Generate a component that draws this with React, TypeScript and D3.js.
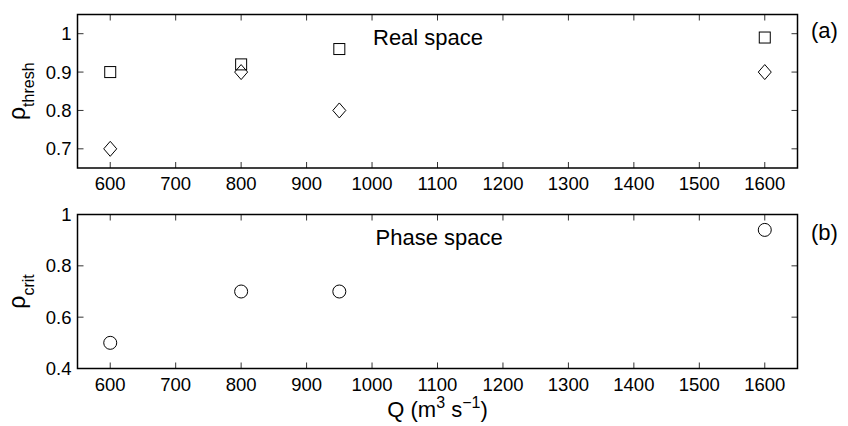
import React, { useEffect, useRef } from 'react';
import * as d3 from 'd3';

// discharge values shared by both panels
const discharge = [600, 800, 950, 1600];
// panel (a) - real space
const threshSquares = [0.9, 0.92, 0.96, 0.99];
const threshDiamonds = [0.7, 0.9, 0.8, 0.9];
// panel (b) - phase space
const critCircles = [0.5, 0.7, 0.7, 0.94];

const xTicks = [600, 700, 800, 900, 1000, 1100, 1200, 1300, 1400, 1500, 1600];
const yTicksA = [0.7, 0.8, 0.9, 1];
const yTicksB = [0.4, 0.6, 0.8, 1];

const FONT = '"Liberation Sans", Arial, Helvetica, sans-serif';

const App = () => {
  const ref = useRef<SVGSVGElement>(null);

  useEffect(() => {
    const svg = d3.select(ref.current);
    svg.selectAll('*').remove();

    const left = 77.5;
    const right = 797.5;

    const x = d3.scaleLinear().domain([550, 1650]).range([left, right]);

    const drawPanel = (
      top: number,
      bottom: number,
      yDomain: [number, number],
      yTicks: number[],
    ) => {
      const y = d3.scaleLinear().domain(yDomain).range([bottom, top]);
      const g = svg.append('g');
      const tickLen = 6;

      // x ticks bottom + top (inside)
      xTicks.forEach((t) => {
        g.append('line')
          .attr('x1', x(t)).attr('x2', x(t))
          .attr('y1', bottom).attr('y2', bottom - tickLen)
          .attr('stroke', '#333').attr('stroke-width', 1);
        g.append('line')
          .attr('x1', x(t)).attr('x2', x(t))
          .attr('y1', top).attr('y2', top + tickLen)
          .attr('stroke', '#333').attr('stroke-width', 1);
        g.append('text')
          .attr('x', x(t))
          .attr('y', bottom + 22)
          .attr('text-anchor', 'middle')
          .style('font-family', FONT)
          .style('font-size', '18.5px')
          .text(t);
      });

      // y ticks left + right (inside)
      yTicks.forEach((t) => {
        g.append('line')
          .attr('x1', left).attr('x2', left + tickLen)
          .attr('y1', y(t)).attr('y2', y(t))
          .attr('stroke', '#333').attr('stroke-width', 1);
        g.append('line')
          .attr('x1', right).attr('x2', right - tickLen)
          .attr('y1', y(t)).attr('y2', y(t))
          .attr('stroke', '#333').attr('stroke-width', 1);
        g.append('text')
          .attr('x', left - 6)
          .attr('y', y(t))
          .attr('dy', '0.36em')
          .attr('text-anchor', 'end')
          .style('font-family', FONT)
          .style('font-size', '18.5px')
          .text(t === 1 ? '1' : d3.format('.1f')(t));
      });

      // frame
      g.append('rect')
        .attr('x', left).attr('y', top)
        .attr('width', right - left).attr('height', bottom - top)
        .attr('fill', 'none')
        .attr('stroke', '#000')
        .attr('stroke-width', 1.5);

      return { g, y };
    };

    const yLabel = (cy: number, sub: string) => {
      const t = svg.append('text')
        .attr('transform', `translate(25,${cy}) rotate(-90)`)
        .attr('text-anchor', 'middle')
        .style('font-family', FONT)
        .style('font-size', '23px');
      t.append('tspan').text('ρ');
      t.append('tspan').attr('dy', 9).style('font-size', '16px').text(sub);
    };

    // ---- panel (a)
    const a = drawPanel(14.5, 168, [0.65, 1.05], yTicksA);

    a.g.selectAll('.sq')
      .data(discharge)
      .enter()
      .append('rect')
      .attr('x', (d) => x(d) - 5.5)
      .attr('y', (d, i) => a.y(threshSquares[i]) - 5.5)
      .attr('width', 11)
      .attr('height', 11)
      .attr('fill', 'none')
      .attr('stroke', '#000')
      .attr('stroke-width', 1);

    a.g.selectAll('.dm')
      .data(discharge)
      .enter()
      .append('path')
      .attr('transform', (d, i) => `translate(${x(d)},${a.y(threshDiamonds[i])})`)
      .attr('d', 'M0,-7.5L6.5,0L0,7.5L-6.5,0Z')
      .attr('fill', 'none')
      .attr('stroke', '#000')
      .attr('stroke-width', 1);

    a.g.append('text')
      .attr('x', 373)
      .attr('y', 45)
      .style('font-family', FONT)
      .style('font-size', '22px')
      .text('Real space');

    svg.append('text')
      .attr('x', 811)
      .attr('y', 38)
      .style('font-family', FONT)
      .style('font-size', '22px')
      .text('(a)');

    yLabel((14.5 + 168) / 2, 'thresh');

    // ---- panel (b)
    const b = drawPanel(214.5, 368.5, [0.4, 1], yTicksB);

    b.g.selectAll('.ci')
      .data(discharge)
      .enter()
      .append('circle')
      .attr('cx', (d) => x(d))
      .attr('cy', (d, i) => b.y(critCircles[i]))
      .attr('r', 6.5)
      .attr('fill', 'none')
      .attr('stroke', '#000')
      .attr('stroke-width', 1);

    b.g.append('text')
      .attr('x', 375.5)
      .attr('y', 245)
      .style('font-family', FONT)
      .style('font-size', '22px')
      .text('Phase space');

    svg.append('text')
      .attr('x', 811)
      .attr('y', 240)
      .style('font-family', FONT)
      .style('font-size', '22px')
      .text('(b)');

    yLabel((214.5 + 368.5) / 2, 'crit');

    // x label
    const xl = svg.append('text')
      .attr('x', (left + right) / 2)
      .attr('y', 417)
      .attr('text-anchor', 'middle')
      .style('font-family', FONT)
      .style('font-size', '22px');
    xl.append('tspan').text('Q (m');
    xl.append('tspan').attr('dy', -9).style('font-size', '16px').text('3');
    xl.append('tspan').attr('dy', 9).text(' s');
    xl.append('tspan').attr('dy', -9).style('font-size', '16px').text('−1');
    xl.append('tspan').attr('dy', 9).text(')');
  }, []);

  return (
    <svg
      ref={ref}
      width={848}
      height={426}
      style={{ position: 'absolute', left: 0, top: 0, background: '#fff' }}
    />
  );
};

export default App;
